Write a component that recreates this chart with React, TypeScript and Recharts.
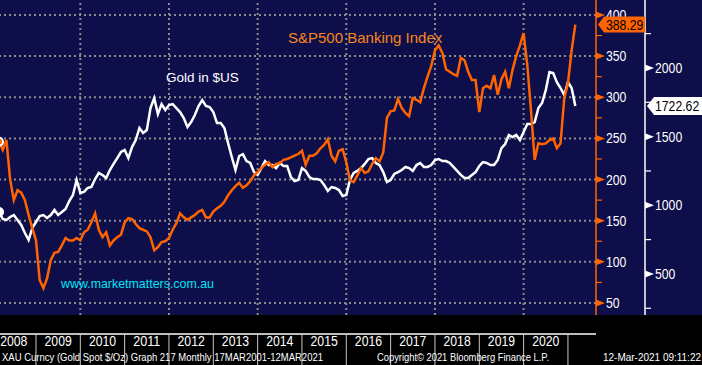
import { LineChart, Line, XAxis, YAxis, ReferenceLine } from 'recharts'

const ARIAL = "'Liberation Sans', Arial, sans-serif"

// monthly points, first one is Mar 2008 (month index 2 counted from Jan 2008)
const FIRST_MONTH = 2

// S&P500 Banking Index
const bankIndex = [
  246, 236, 248, 200, 175, 187, 184, 175, 157, 141, 126, 78, 68, 80, 102, 111, 112, 120, 129, 126,
  126, 129, 126, 136, 139, 148, 159, 139, 130, 136, 120, 126, 130, 133, 148, 153, 152, 146, 141, 139,
  137, 130, 114, 118, 124, 125, 129, 139, 147, 159, 154, 151, 154, 157, 161, 163, 154, 154, 161, 165,
  168, 173, 181, 187, 192, 196, 190, 193, 198, 205, 209, 214, 218, 221, 215, 219, 220, 224, 225, 227,
  229, 231, 235, 218, 229, 229, 232, 238, 242, 249, 229, 222, 235, 237, 221, 199, 197, 205, 214, 208,
  210, 219, 226, 222, 233, 275, 283, 284, 298, 287, 281, 277, 299, 297, 294, 311, 325, 338, 357, 363,
  354, 334, 331, 328, 326, 348, 345, 331, 321, 321, 282, 311, 314, 311, 327, 303, 322, 331, 311, 333,
  350, 363, 378, 339, 284, 224, 244, 243, 244, 248, 250, 238, 244, 299, 317, 357, 388.29,
]

// Gold spot, $/oz
const goldUsd = [
  951, 900, 893, 915, 929, 893, 857, 798, 747, 835, 878, 922, 929, 908, 929, 966, 929, 951, 973, 1031,
  1075, 1184, 1090, 1097, 1126, 1133, 1191, 1235, 1221, 1199, 1257, 1301, 1344, 1388, 1402, 1344, 1424, 1475, 1563, 1526,
  1548, 1708, 1781, 1664, 1737, 1694, 1730, 1737, 1708, 1679, 1635, 1570, 1606, 1657, 1723, 1766, 1723, 1715, 1679, 1599,
  1599, 1563, 1453, 1352, 1257, 1359, 1373, 1322, 1308, 1242, 1221, 1271, 1322, 1293, 1293, 1271, 1308, 1286, 1286, 1206,
  1177, 1184, 1271, 1250, 1206, 1191, 1191, 1184, 1148, 1104, 1133, 1126, 1111, 1068, 1075, 1184, 1235, 1250, 1271, 1301,
  1337, 1344, 1308, 1293, 1242, 1170, 1184, 1228, 1242, 1257, 1279, 1271, 1250, 1293, 1308, 1279, 1279, 1293, 1330, 1337,
  1322, 1322, 1308, 1279, 1250, 1221, 1199, 1199, 1221, 1242, 1286, 1315, 1308, 1293, 1293, 1330, 1417, 1446, 1512, 1497,
  1512, 1475, 1533, 1592, 1592, 1606, 1708, 1745, 1839, 1970, 1963, 1897, 1854, 1803, 1897, 1854, 1722.62,
]

const yearSeparators = [2009, 2010, 2011, 2012, 2013, 2014, 2015, 2016, 2017, 2018, 2019, 2020, 2021]
const yearLabels = [2008, 2009, 2010, 2011, 2012, 2013, 2014, 2015, 2016, 2017, 2018, 2019, 2020]
const gridYears = [2010, 2012, 2014, 2016, 2018, 2020]
const bankTicks = [50, 75, 100, 125, 150, 175, 200, 225, 250, 275, 300, 325, 350, 375, 400]
const goldTicks = [250, 500, 750, 1000, 1250, 1500, 1750, 2000, 2250]

const BANK_LAST = bankIndex[bankIndex.length - 1]
const GOLD_LAST = goldUsd[goldUsd.length - 1]

const data = bankIndex.map((bank, i) => ({
  t: 2008 + (FIRST_MONTH + i) / 12,
  bank,
  gold: goldUsd[i],
}))

const ORANGE = '#ff6400'

// Bloomberg's label font is narrow; squeeze Liberation Sans to that width
const narrowWidth = (s: string) => [...s].reduce((w, c) => w + (c === '.' ? 3.4 : 6.8), 0)

function NarrowText({ x, y, fill, children, anchor = 'start' }: any) {
  const s = String(children)
  return (
    <text
      x={x}
      y={y}
      fontSize={15}
      fill={fill}
      fontFamily={ARIAL}
      textAnchor={anchor}
      textLength={narrowWidth(s)}
      lengthAdjust="spacingAndGlyphs"
    >
      {s}
    </text>
  )
}

function BankTick(props: any) {
  const { x, y, payload } = props
  const v = payload.value
  if (v === BANK_LAST) {
    return (
      <g>
        <polygon
          points={`${x + 2},${y} ${x + 8},${y - 8} ${x + 49},${y - 8} ${x + 49},${y + 8} ${x + 8},${y + 8}`}
          fill={ORANGE}
        />
        <NarrowText x={x + 10} y={y + 5} fill="#000">{v.toFixed(2)}</NarrowText>
      </g>
    )
  }
  if (v % 50 !== 0) return <line x1={x} x2={x + 6} y1={y} y2={y} stroke={ORANGE} strokeWidth={1.2} />
  return (
    <g>
      <polygon points={`${x},${y - 3.5} ${x + 9},${y} ${x},${y + 3.5}`} fill={ORANGE} />
      <NarrowText x={x + 10} y={y + 5} fill="#fff">{v}</NarrowText>
    </g>
  )
}

function GoldTick(props: any) {
  const { x, y, payload } = props
  const v = payload.value
  if (v === GOLD_LAST) {
    return (
      <g>
        <polygon
          points={`${x + 2},${y} ${x + 9},${y - 9} ${x + 57},${y - 9} ${x + 57},${y + 9} ${x + 9},${y + 9}`}
          fill="#fff"
        />
        <NarrowText x={x + 10} y={y + 5} fill="#000">{v.toFixed(2)}</NarrowText>
      </g>
    )
  }
  if (v % 500 !== 0) return <line x1={x} x2={x + 6} y1={y} y2={y} stroke="#fff" strokeWidth={1.2} />
  return (
    <g>
      <polygon points={`${x},${y - 3.5} ${x + 9},${y} ${x},${y + 3.5}`} fill="#fff" />
      <NarrowText x={x + 10} y={y + 5} fill="#fff">{v}</NarrowText>
    </g>
  )
}

function YearTick(props: any) {
  const { x, y, payload } = props
  return (
    <NarrowText x={x} y={y + 11} fill="#fff" anchor="middle">
      {Math.floor(payload.value)}
    </NarrowText>
  )
}

const X_DOMAIN: [number, number] = [2008.188, 2021.633]

export default function App() {
  return (
    <div
      style={{
        position: 'absolute', left: 0, top: 0, width: 702, height: 365,
        background: 'linear-gradient(#0e0e4a 0, #0e0e4a 315px, #000 315px)',
      }}
    >
      <LineChart width={702} height={365} data={data} margin={{ top: 0, right: 0, bottom: 30, left: 0 }}>
        <XAxis
          xAxisId="sep"
          dataKey="t"
          type="number"
          domain={X_DOMAIN}
          allowDataOverflow
          ticks={yearSeparators}
          height={1}
          tickSize={33}
          tick={() => <g />}
          tickLine={{ stroke: '#c8c8c8', strokeWidth: 1 }}
          axisLine={{ stroke: '#fff', strokeWidth: 1.5 }}
        />
        <XAxis
          xAxisId="lab"
          dataKey="t"
          type="number"
          domain={X_DOMAIN}
          allowDataOverflow
          ticks={yearLabels.map((y) => y + 0.5)}
          height={19}
          tickSize={20}
          tickMargin={0}
          tickLine={false}
          axisLine={false}
          interval={0}
          tick={YearTick}
        />
        <YAxis
          yAxisId="bank"
          orientation="right"
          type="number"
          domain={[35.4, 418.2]}
          allowDataOverflow
          width={49}
          ticks={[...bankTicks, BANK_LAST]}
          interval={0}
          tickSize={0}
          tickMargin={0}
          tickLine={false}
          axisLine={{ stroke: ORANGE, strokeWidth: 1.5 }}
          tick={BankTick}
        />
        <YAxis
          yAxisId="gold"
          orientation="right"
          type="number"
          domain={[201, 2495]}
          allowDataOverflow
          width={57}
          ticks={[...goldTicks, GOLD_LAST]}
          interval={0}
          tickSize={0}
          tickMargin={0}
          tickLine={false}
          axisLine={{ stroke: '#fff', strokeWidth: 1.5 }}
          tick={GoldTick}
        />
        {bankTicks.filter((v) => v % 50 === 0).map((v) => (
          <ReferenceLine key={'h' + v} yAxisId="bank" xAxisId="sep" y={v} stroke="#8c8c8c" strokeWidth={2} strokeDasharray="2 3" />
        ))}
        {gridYears.map((yr) => (
          <ReferenceLine key={'v' + yr} yAxisId="bank" xAxisId="sep" x={yr} stroke="#8c8c8c" strokeWidth={2} strokeDasharray="2 3" />
        ))}
        {/* invisible copy so the label axis gets a domain */}
        <Line
          xAxisId="lab"
          yAxisId="bank"
          dataKey="bank"
          stroke="none"
          dot={false}
          activeDot={false}
          legendType="none"
          isAnimationActive={false}
        />
        <Line
          xAxisId="sep"
          yAxisId="gold"
          dataKey="gold"
          type="linear"
          stroke="#ffffff"
          strokeWidth={2.5}
          dot={false}
          isAnimationActive={false}
        />
        <Line
          xAxisId="sep"
          yAxisId="bank"
          dataKey="bank"
          type="linear"
          stroke={ORANGE}
          strokeWidth={2.5}
          dot={false}
          isAnimationActive={false}
        />
      </LineChart>
      <svg width={702} height={365} style={{ position: 'absolute', left: 0, top: 0, pointerEvents: 'none' }}>
        <text x={288} y={43} fontSize={15} fill="#f7861b" fontFamily={ARIAL}>S&amp;P500 Banking Index</text>
        <text x={166} y={82} fontSize={13.5} fill="#fff" fontFamily={ARIAL}>Gold in $US</text>
        <text x={61} y={288} fontSize={13} fill="#00e4f4" fontFamily={ARIAL} textLength={153} lengthAdjust="spacingAndGlyphs">
          www.marketmatters.com.au
        </text>
        <text x={2} y={361} fontSize={11} fill="#fff" fontFamily={ARIAL} textLength={321} lengthAdjust="spacingAndGlyphs">
          XAU Curncy (Gold Spot  $/Oz) Graph 217  Monthly 17MAR2001-12MAR2021
        </text>
        <text x={377} y={361} fontSize={11} fill="#fff" fontFamily={ARIAL} textLength={172} lengthAdjust="spacingAndGlyphs">
          Copyright© 2021 Bloomberg Finance L.P.
        </text>
        <text x={603} y={361} fontSize={11} fill="#fff" fontFamily={ARIAL} textLength={98} lengthAdjust="spacingAndGlyphs">
          12-Mar-2021 09:11:22
        </text>
      </svg>
    </div>
  )
}
